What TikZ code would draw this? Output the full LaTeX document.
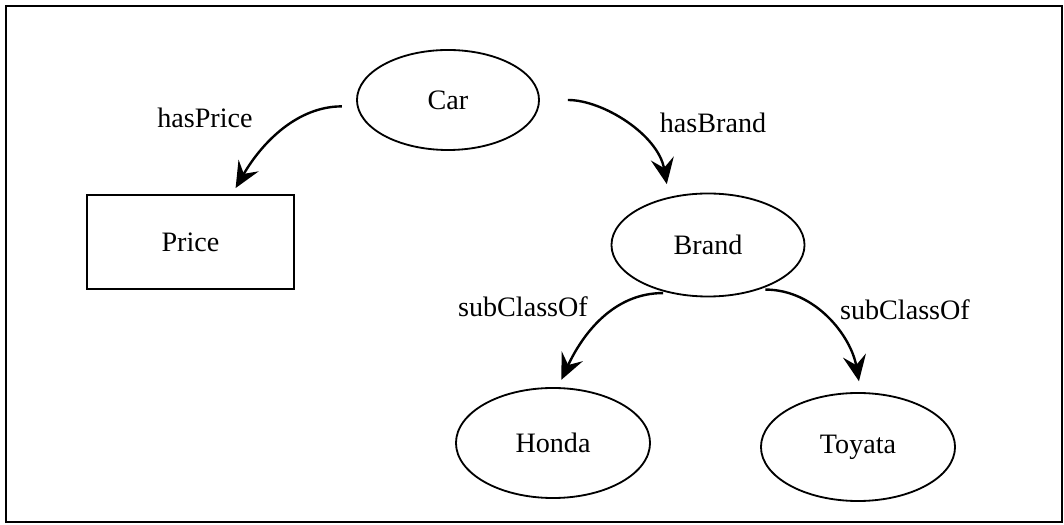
\documentclass[tikz,border=0pt]{standalone}
\usepackage{fontspec}
\setmainfont{Liberation Serif}
\usetikzlibrary{shapes.geometric, arrows.meta}

\begin{document}
\begin{tikzpicture}[x=0.025cm, y=0.025cm,
    every node/.style={font=\fontsize{20}{24}\selectfont},
    cls/.style={ellipse, draw, line width=1.3pt, inner sep=0pt},
    box/.style={rectangle, draw, line width=1.2pt, inner sep=0pt},
    rel/.style={line width=1.7pt, -{Stealth[length=6.5mm, width=5.8mm, inset=2.4mm]}},
    lbl/.style={inner sep=0pt}]
    \useasboundingbox (0,0) rectangle (1064,525);
    \draw[line width=1.4pt] (6,3) rectangle (1062,519);
    % classes
    \node[cls, minimum width=4.55cm, minimum height=2.5cm] (car) at (448,425) {Car};
    \node[box, minimum width=5.175cm, minimum height=2.35cm] (price) at (190.5,283) {Price};
    \node[cls, minimum width=4.825cm, minimum height=2.575cm] (brand) at (708,280) {Brand};
    \node[cls, minimum width=4.85cm, minimum height=2.75cm] (honda) at (553,82) {Honda};
    \node[cls, minimum width=4.85cm, minimum height=2.7cm] (toyata) at (858,78) {Toyata};
    % properties
    \draw[rel, shorten <=0.375cm, shorten >=0.175cm] (car.184) to[out=180, in=60] (price.49);
    \draw[rel, shorten <=0.7cm, shorten >=0.325cm] (car.east) to[out=0, in=100] (brand.129);
    \draw[rel, shorten <=0.15cm, shorten >=0.2cm] (brand.231) to[out=180, in=65] (honda.85);
    \draw[rel, shorten <=0.15cm, shorten >=0.275cm] (brand.319) to[out=0, in=100] (toyata.87);
    \node[lbl] (lprice) at (205,407) {hasPrice};
    \node[lbl] (lbrand) at (713,402) {hasBrand};
    \node[lbl] (lsubh) at (523,218) {subClassOf};
    \node[lbl] (lsubt) at (905,215) {subClassOf};
\end{tikzpicture}
\end{document}
